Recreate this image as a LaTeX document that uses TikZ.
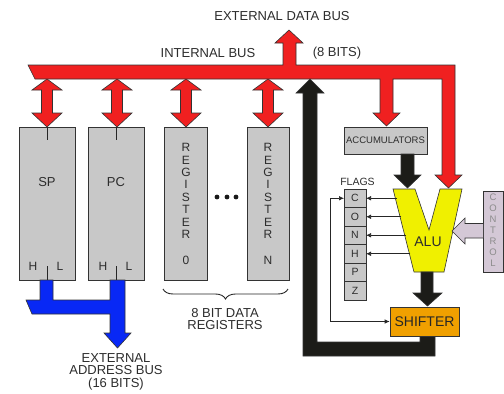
\documentclass[tikz,border=0pt]{standalone}
\usepackage{fontspec}
\setmainfont{Liberation Sans}
\usetikzlibrary{arrows.meta,decorations.pathreplacing,calc}
\definecolor{busred}{RGB}{240,32,32}
\definecolor{busblack}{RGB}{28,28,24}
\definecolor{busblue}{RGB}{8,40,245}
\definecolor{boxgray}{RGB}{200,200,200}
\definecolor{aluyellow}{RGB}{240,240,0}
\definecolor{shiftorange}{RGB}{240,160,0}
\definecolor{ctrllav}{RGB}{212,200,214}
\definecolor{txt}{RGB}{45,45,45}
\newcommand\myfont[1]{\fontsize{#1}{#1}\selectfont}
\begin{document}
\begin{tikzpicture}[x=1pt,y=-1pt,
  outl/.style={draw=black!80,line width=0.6pt,line join=miter},
  redshape/.style={outl,fill=busred},
  blackshape/.style={outl,fill=busblack},
  blueshape/.style={outl,fill=busblue},
  regbox/.style={outl,fill=boxgray,minimum height=153pt,anchor=north west,inner sep=0pt,outer sep=0pt},
  flagbox/.style={outl,fill=boxgray,minimum width=22pt,minimum height=18.5pt,inner sep=0pt,outer sep=0pt,text=txt,font=\myfont{10.5}},
  lbl/.style={text=txt,inner sep=0pt,font=\myfont{13}},
  tick/.style={draw=black!85,line width=0.7pt},
  thinarr/.style={draw=black!85,line width=0.7pt,-{Latex[length=5pt,width=4.5pt]}},
  thinarrs/.style={draw=black!85,line width=0.7pt,{Latex[length=5pt,width=4.5pt]}-{Latex[length=5pt,width=4.5pt]}}
]
\useasboundingbox (0,0) rectangle (504,394);
\fill[white] (0,0) rectangle (504,394);

% ---------------- labels on top
\node[lbl] (extdata) at (282,16) {EXTERNAL DATA BUS};
\node[lbl] (intbus) at (208,53) {INTERNAL BUS};
\node[lbl] (bits8) at (337,53) {(8 BITS)};

% ---------------- double arrows between bus and registers
\foreach \cx in {47,117,186,268}{
  \draw[redshape] (\cx,79) -- (\cx+15,90) -- (\cx+5.5,90) -- (\cx+5.5,113) -- (\cx+15,113)
    -- (\cx,127) -- (\cx-15,113) -- (\cx-5.5,113) -- (\cx-5.5,90) -- (\cx-15,90) -- cycle;
}

% ---------------- red internal bus
\draw[redshape] (28,65) -- (283,65) -- (283,43) -- (275,43) -- (289,30) -- (303,43) -- (296,43)
  -- (296,65) -- (455,65) -- (455,175) -- (462,175) -- (448.5,188) -- (435,175) -- (442,175)
  -- (442,79) -- (393,79) -- (393,113) -- (400,113) -- (386.5,126) -- (373,113) -- (380,113)
  -- (380,79) -- (35,79) -- cycle;

% ---------------- registers
\node[regbox,minimum width=56pt] (sp) at (19,127) {};
\node[regbox,minimum width=56pt] (pc) at (88,127) {};
\node[regbox,minimum width=43pt] (reg0) at (164,127) {};
\node[regbox,minimum width=42pt] (regn) at (247,127) {};

\draw[tick] (sp.north) -- ++(0,13);
\draw[tick] (sp.south) -- ++(0,-14);
\draw[tick] (pc.north) -- ++(0,13);
\draw[tick] (pc.south) -- ++(0,-14);

\node[lbl] (sptxt) at (47,182) {SP};
\node[lbl] (pctxt) at (116,182) {PC};
\node[lbl,font=\myfont{12}] (sph) at (33,266) {H};
\node[lbl,font=\myfont{12}] (spl) at (60,266) {L};
\node[lbl,font=\myfont{12}] (pch) at (103,266) {H};
\node[lbl,font=\myfont{12}] (pcl) at (129,266) {L};

\node[lbl,font=\fontsize{12}{12.36}\selectfont,align=center] (r0txt) at (186,191)
  {R\\E\\G\\I\\S\\T\\E\\R};
\node[lbl,font=\fontsize{12}{12.36}\selectfont,align=center] (rntxt) at (268,191)
  {R\\E\\G\\I\\S\\T\\E\\R};
\node[lbl,font=\myfont{12}] (r0num) at (186,260) {0};
\node[lbl,font=\myfont{12}] (rnnum) at (268,260) {N};

\foreach \dx in {217,227,236}{\fill[black!90] (\dx,197) circle (2.4pt);}

% brace
\draw[line width=0.9pt,black!85,decorate,decoration={brace,mirror,amplitude=10pt}] (163,289) -- (288,289);
\node[lbl,align=center,font=\fontsize{13}{12}\selectfont] (datareg) at (225,319) {8 BIT DATA\\REGISTERS};

% ---------------- blue address bus
\draw[blueshape] (26,300) -- (40,300) -- (40,280) -- (53,280) -- (53,300) -- (110,300) -- (110,280)
  -- (125,280) -- (125,333) -- (131,333) -- (117.5,348) -- (104,333) -- (110,333) -- (110,314)
  -- (32,314) -- cycle;
\node[lbl,align=center,font=\fontsize{13}{12.5}\selectfont] (addrbus) at (116,371.5)
  {EXTERNAL\\ADDRESS BUS\\(16 BITS)};

% ---------------- black return path
\draw[blackshape] (303,93) -- (296,93) -- (310,79) -- (324,93) -- (317,93) -- (317,342) -- (420,342)
  -- (420,336) -- (435,336) -- (435,356) -- (303,356) -- cycle;

% ---------------- accumulators
\node[outl,fill=boxgray,minimum width=83pt,minimum height=27pt,inner sep=0pt,text=txt,
  font=\myfont{9.5}] (acc) at (385.5,140.5) {ACCUMULATORS};
\draw[blackshape] (401,154) -- (414,154) -- (414,175) -- (421,175) -- (407.5,188) -- (394,175)
  -- (401,175) -- cycle;

% ---------------- ALU
\draw[outl,fill=aluyellow] (393,189) -- (415,189) -- (429,230) -- (440,189) -- (462,189)
  -- (444,272) -- (414,272) -- cycle;
\node[lbl,font=\myfont{14}] (alu) at (428,242) {ALU};

% ALU -> shifter
\draw[blackshape] (421,272) -- (433,272) -- (433,293) -- (442,293) -- (427.5,306) -- (413,293)
  -- (421,293) -- cycle;

% ---------------- control
\node[outl,fill=ctrllav,minimum width=20pt,minimum height=81pt,inner sep=0pt,anchor=north west]
  (ctrl) at (483,191) {};
\node[inner sep=0pt,text=black!45,align=center,font=\fontsize{9.5}{11}\selectfont] (ctrltxt)
  at (493,230.5) {C\\O\\N\\T\\R\\O\\L};
\draw[outl,fill=ctrllav] (483,223.5) -- (465,223.5) -- (465,218) -- (452,231) -- (465,244)
  -- (465,238) -- (483,238);

% ---------------- flags
\node[lbl,font=\myfont{10.5}] (flagstxt) at (357.5,182) {FLAGS};
\foreach \l [count=\i] in {C,O,N,H,P,Z}{
  \node[flagbox] (f\l) at (355,{189+18.5*(\i-0.5)}) {\l};
}
\coordinate (aC) at (396.5,198.25);
\coordinate (aO) at (401,216.75);
\coordinate (aN) at (405.7,235.25);
\coordinate (aH) at (410.4,253.75);
\draw[thinarr] (aC) -- (fC.east);
\draw[thinarr] (aO) -- (fO.east);
\draw[thinarr] (aN) -- (fN.east);
\draw[thinarr] (aH) -- (fH.east);

% ---------------- shifter
\node[outl,fill=shiftorange,minimum width=69pt,minimum height=29pt,inner sep=0pt,
  text=black!85,font=\myfont{14}] (shifter) at (424.5,321.5) {SHIFTER};
\draw[thinarrs] (fC.west) -- ++(-14,0) |- (shifter.west);

\end{tikzpicture}
\end{document}
